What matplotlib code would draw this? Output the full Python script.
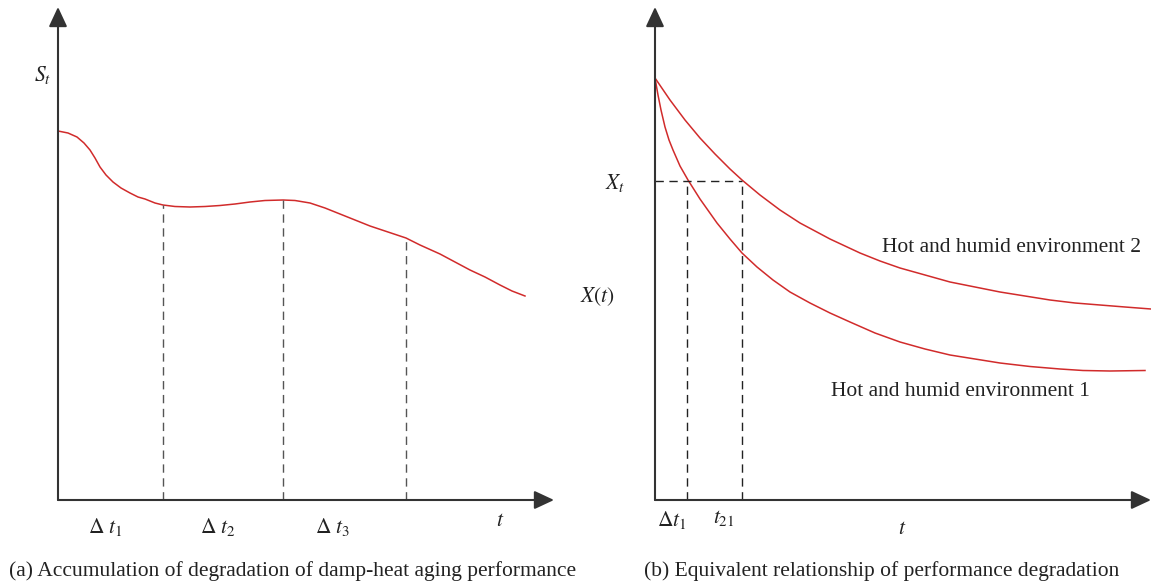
import matplotlib.pyplot as plt

plt.rcParams['mathtext.fontset'] = 'stix'
plt.rcParams['font.family'] = ['Liberation Serif', 'DejaVu Serif']

# (a) degradation curve, schematic units (origin at axis corner)
s_x = [0, 10, 19, 26, 32, 37, 42, 48, 55, 63, 72, 80, 87, 97, 105, 117, 132, 147, 162, 177,
       192, 207, 225, 237, 252, 267, 282, 297, 312, 330, 348, 362, 382, 397, 412, 427, 442, 454, 467]
s_y = [369, 367, 363, 357, 350, 342, 333, 325, 318, 312, 307, 303, 301, 297, 295, 293.5, 293, 293.5,
       294.5, 296, 298, 299.5, 300, 299.5, 297, 292, 286, 280, 274, 268, 262, 255, 246, 238, 230,
       223, 215, 209, 204]
dt_x = [105, 225, 348]
dt_top = [295, 300, 262]
dt_labels = [r'$\Delta\ t_1$', r'$\Delta\ t_2$', r'$\Delta\ t_3$']
dt_label_x = [47, 160, 275]

# (b) two environments
e2_x = [0, 15, 30, 45, 60, 75, 87, 105, 125, 145, 160, 175, 190, 205, 225, 245, 270, 295, 320,
        345, 370, 395, 420, 445, 470, 496]
e2_y = [422, 400, 380, 362, 346, 331, 320, 305, 290, 277, 269, 261, 254, 247, 239, 232, 225, 218, 213,
        208, 204, 200, 197, 195, 193, 191]
e1_x = [0, 3, 6, 10, 14, 18, 25, 33, 45, 62, 75, 87, 102, 118, 135, 155, 175, 195, 220, 245,
        270, 295, 320, 345, 375, 405, 428, 455, 490]
e1_y = [422, 405, 390, 373, 360, 350, 334, 320, 301, 277, 261, 247, 233, 220, 208, 197, 187, 178,
        167, 158, 151, 145, 141, 137, 133.5, 131, 129.5, 129, 129.5]
xt_level = 319
xt_cross = [32, 87]


def axis_arrows(ax, xmax, ymax):
    style = dict(arrowstyle='-|>,head_length=0.6,head_width=0.28', mutation_scale=20,
                 lw=1.5, color='#333333', shrinkA=0, shrinkB=0)
    ax.annotate('', xy=(xmax, 0), xytext=(0, 0), arrowprops=style)
    ax.annotate('', xy=(0, ymax), xytext=(0, 0), arrowprops=style)


fig = plt.figure(figsize=(11.51, 5.85), dpi=100)
red = '#d12b2b'
ink = '#222222'
fs = 15.5

# left panel
ax1 = fig.add_axes([0, 0, 1, 1])
ax1.set_xlim(-58, 1093)
ax1.set_ylim(-85, 500)
ax1.axis('off')
axis_arrows(ax1, 496, 493)
ax1.plot(s_x, s_y, color=red, lw=1.1)
for x, top in zip(dt_x, dt_top):
    ax1.plot([x, x], [0, top], color='#555555', lw=1.0, ls=(0, (6, 4)))
for x, lab in zip(dt_label_x, dt_labels):
    ax1.text(x, -27, lab, fontsize=fs, ha='center', va='center', color=ink)
ax1.text(442, -22, r'$t$', fontsize=fs, ha='center', va='center', color=ink)
ax1.text(-15, 425, r'$S_t$', fontsize=fs, ha='center', va='center', color=ink)

# right panel
ax2 = fig.add_axes([0, 0, 1, 1])
ax2.set_xlim(-655, 496)
ax2.set_ylim(-85, 500)
ax2.axis('off')
axis_arrows(ax2, 496, 493)
ax2.plot(e2_x, e2_y, color=red, lw=1.1)
ax2.plot(e1_x, e1_y, color=red, lw=1.1)
ax2.plot([0, xt_cross[1]], [xt_level, xt_level], color=ink, lw=1.0, ls=(0, (6, 4)))
for x in xt_cross:
    ax2.plot([x, x], [0, xt_level], color=ink, lw=1.0, ls=(0, (6, 4)))
ax2.text(-40, 317, r'$X_t$', fontsize=fs, ha='center', va='center', color=ink)
ax2.text(-57, 203, r'$X(t)$', fontsize=fs, ha='center', va='center', color=ink)
ax2.text(17, -20, r'$\Delta t_1$', fontsize=fs, ha='center', va='center', color=ink)
ax2.text(69, -18, r'$t_{21}$', fontsize=fs, ha='center', va='center', color=ink)
ax2.text(247, -30, r'$t$', fontsize=fs, ha='center', va='center', color=ink)
ax2.text(227, 252, 'Hot and humid environment 2', fontsize=fs, ha='left', va='center', color=ink)
ax2.text(176, 108, 'Hot and humid environment 1', fontsize=fs, ha='left', va='center', color=ink)

fig.text(293 / 1151, 1 - 571 / 585, '(a) Accumulation of degradation of damp-heat aging performance',
         fontsize=fs, ha='center', va='center', color=ink)
fig.text(882 / 1151, 1 - 571 / 585, '(b) Equivalent relationship of performance degradation',
         fontsize=fs, ha='center', va='center', color=ink)

fig.savefig('out.png', dpi=100)
